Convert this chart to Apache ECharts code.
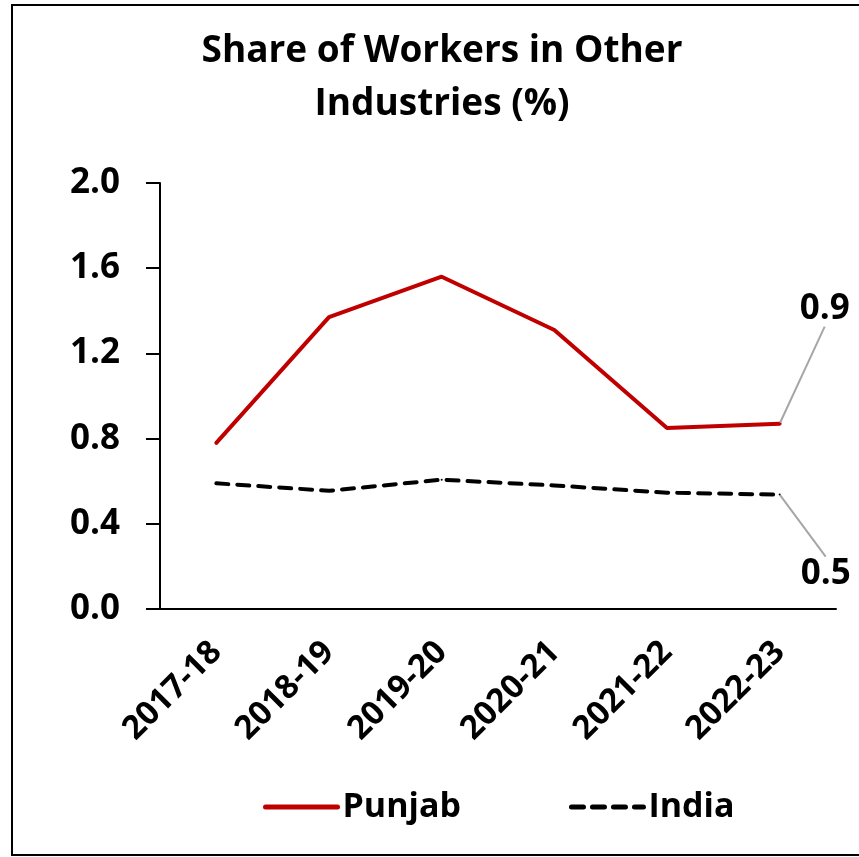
<!DOCTYPE html>
<html>
<head>
<meta charset="utf-8">
<script src="https://cdn.jsdelivr.net/npm/echarts@6/dist/echarts.min.js"></script>
<style>
  html, body { margin: 0; padding: 0; background: #fff; }
  #chart { width: 859px; height: 857px; }
</style>
</head>
<body>
<div id="chart"></div>
<script>
  // Share of workers in other industries (%)
  const years = ['2017-18', '2018-19', '2019-20', '2020-21', '2021-22', '2022-23'];
  const punjab = [0.78, 1.37, 1.56, 1.31, 0.85, 0.87];
  const india = [0.59, 0.555, 0.607, 0.58, 0.546, 0.537];
  const yTicks = { min: 0, max: 2.0, interval: 0.4 };

  const FONT = 'Open Sans';

  // only the last point gets a value label with a leader line
  function lastLabelled(arr, pos) {
    return arr.map(function (v, i) {
      if (i !== arr.length - 1) return v;
      return {
        value: v,
        label: { show: true, position: pos, formatter: v.toFixed(1) },
        labelLine: { show: true, lineStyle: { color: '#a6a6a6', width: 2 } }
      };
    });
  }

  const chart = echarts.init(document.getElementById('chart'));
  chart.setOption({
    animation: false,
    title: {
      text: 'Share of Workers in Other\nIndustries (%)',
      left: 437, textAlign: 'center', top: 20,
      textStyle: { fontFamily: FONT, fontWeight: 'bold', fontSize: 37, lineHeight: 53, color: '#000' }
    },
    graphic: [{
      type: 'rect',
      shape: { x: 12, y: 5, width: 900, height: 850 },
      style: { fill: 'none', stroke: '#000', lineWidth: 2 }
    }],
    grid: { left: 160, right: 23, top: 183, bottom: 248 },
    legend: {
      bottom: 28, left: 258, itemGap: 108, itemWidth: 72, itemHeight: 14,
      itemStyle: { opacity: 0 },
      lineStyle: { width: 5 },
      textStyle: { fontFamily: FONT, fontWeight: 'bold', fontSize: 34, color: '#000' },
      data: ['Punjab', 'India']
    },
    xAxis: {
      type: 'category',
      data: years,
      boundaryGap: true,
      axisLine: { lineStyle: { color: '#000', width: 2 } },
      axisTick: { length: 13, lineStyle: { color: '#000', width: 2 } },
      axisLabel: { rotate: 45, margin: 38, fontFamily: FONT, fontWeight: 'bold', fontSize: 33, color: '#000' }
    },
    yAxis: {
      type: 'value',
      min: yTicks.min, max: yTicks.max, interval: yTicks.interval,
      splitLine: { show: false },
      axisLine: { show: true, lineStyle: { color: '#000', width: 2 } },
      axisTick: { show: true, length: 14, lineStyle: { color: '#000', width: 2 } },
      axisLabel: {
        margin: 40, fontFamily: FONT, fontWeight: 'bold', fontSize: 35, color: '#000',
        formatter: function (v) { return v.toFixed(1); }
      }
    },
    series: [
      {
        name: 'Punjab', type: 'line', data: lastLabelled(punjab, 'top'),
        symbol: 'circle', symbolSize: 2, color: '#c00000',
        lineStyle: { color: '#c00000', width: 4, cap: 'round' },
        label: { fontFamily: FONT, fontWeight: 'bold', fontSize: 35, color: '#000' },
        labelLayout: { dx: 45, dy: -91 }
      },
      {
        name: 'India', type: 'line', data: lastLabelled(india, 'bottom'),
        symbol: 'circle', symbolSize: 2, color: '#000',
        lineStyle: { color: '#000', width: 4, type: [12, 9], cap: 'round' },
        label: { fontFamily: FONT, fontWeight: 'bold', fontSize: 35, color: '#000' },
        labelLayout: { dx: 46, dy: 56 }
      }
    ]
  });
  window.addEventListener('resize', function () { chart.resize(); });
</script>
</body>
</html>
